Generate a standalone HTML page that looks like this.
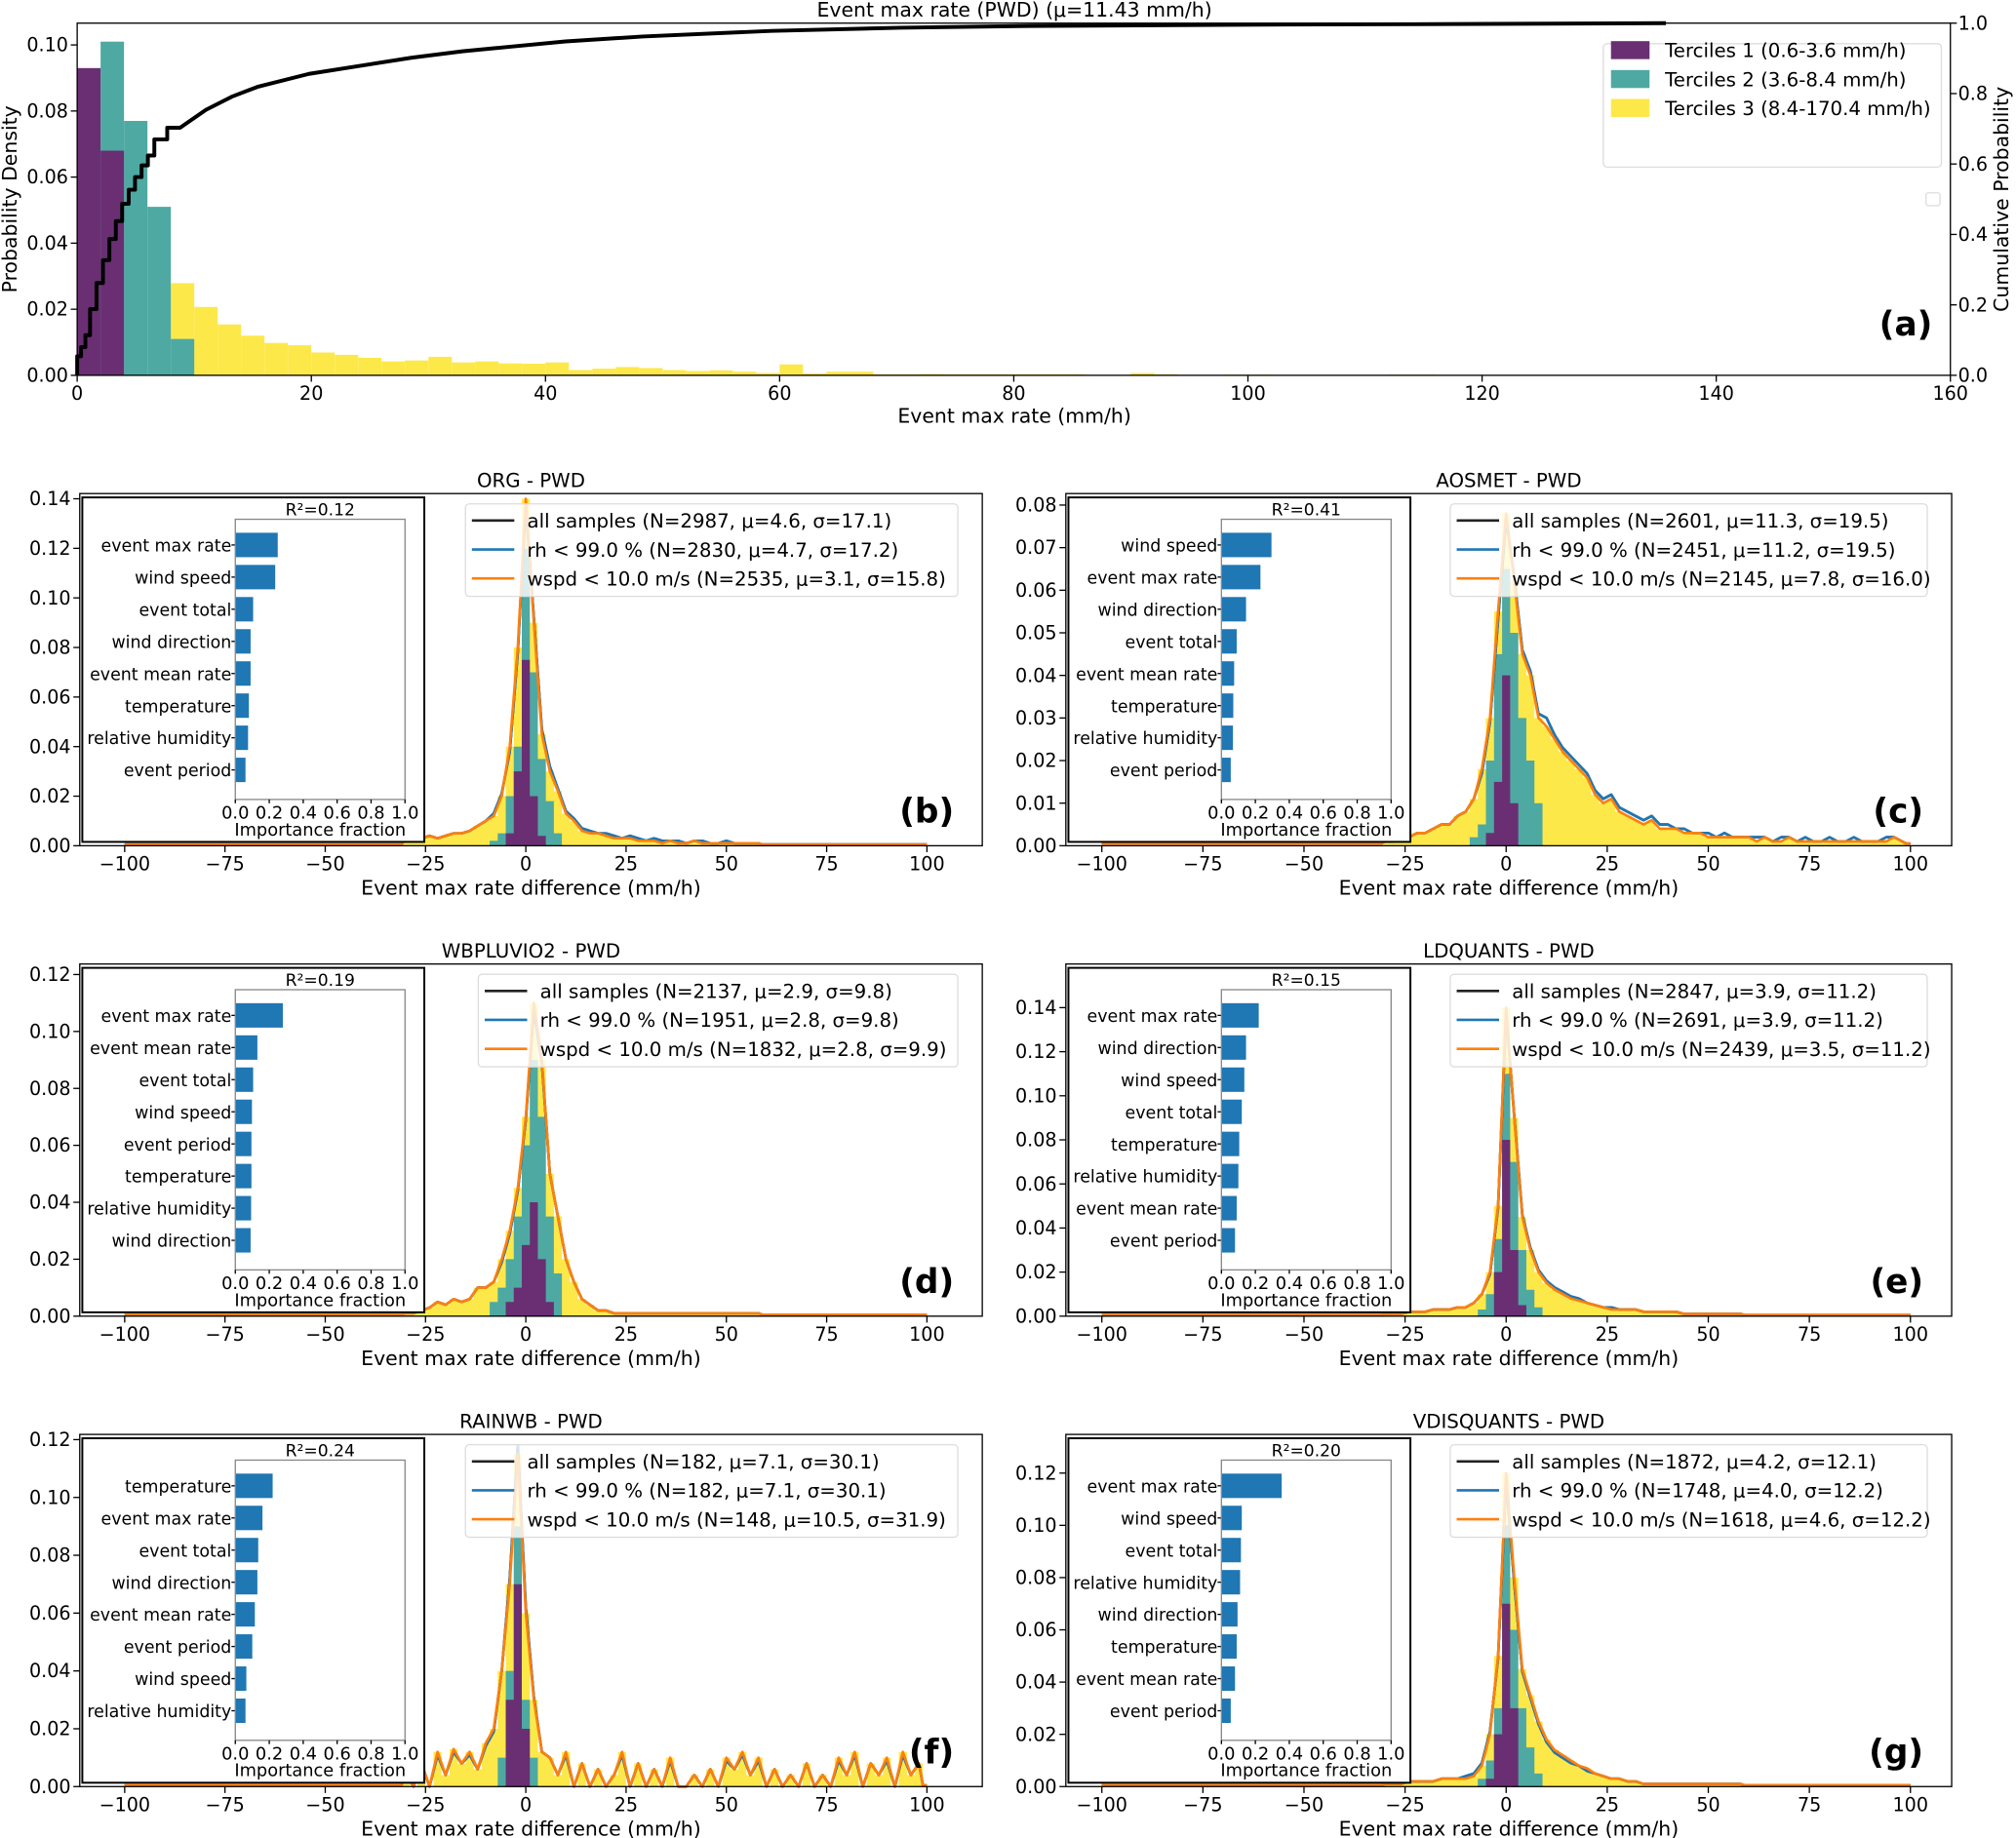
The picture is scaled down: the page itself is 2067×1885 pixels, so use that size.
<!DOCTYPE html>
<html><head><meta charset="utf-8">
<style>
html,body{margin:0;padding:0;background:#fff;}
svg{display:block;font-family:"DejaVu Sans","Liberation Sans",sans-serif;}
</style></head>
<body>
<svg id="fig" xmlns="http://www.w3.org/2000/svg" width="2067" height="1885" viewBox="0 0 1568 1430"></svg>
<script>
// ---------- top panel data ----------
const topBinWidth = 2;
const tercile1 = [0.093,0.068];
const tercile2 = [0,0.101,0.077,0.051,0.011];
const tercile3Start = 8;
const tercile3 = [0.0279,0.0207,0.0154,0.0120,0.0098,0.0091,0.0069,0.0062,0.0053,0.0042,0.0045,0.0056,0.0039,0.0042,0.0036,0.0035,0.0039,0.0016,0.0020,0.0025,0.0022,0.0016,0.0013,0.0015,0.0011,0.0007,0.0033,0.0006,0.0011,0.0011,0.0003,0.0003,0.0004,0.0003,0.0003,0.0003,0.0003,0.0003,0.0003,0.0001,0.0001,0.0007,0.0003,0,0,0.0002,0.0002,0,0,0,0,0,0.0002,0.0002];
const cdfX = [0,0.33,0.7,1.1,1.65,2.2,2.75,3.3,3.84,4.4,4.94,5.5,6.04,6.59,7.69,8.79,11.0,13.2,15.4,19.8,24.2,28.6,32.9,37.3,41.7,48.3,59.3,70.3,81.3,92.2,103.2,114.2,135.7];
const cdfY = [0,0.054,0.08,0.114,0.188,0.262,0.327,0.387,0.438,0.487,0.527,0.563,0.596,0.624,0.670,0.703,0.754,0.791,0.819,0.856,0.879,0.902,0.920,0.934,0.948,0.962,0.978,0.987,0.992,0.994,0.996,0.997,1.0];
const topXTicks = [0,20,40,60,80,100,120,140,160];
const topYTicks = [0,0.02,0.04,0.06,0.08,0.10];
const topCTicks = [0,0.2,0.4,0.6,0.8,1.0];

// ---------- lower panels data (bins of 2 starting at -31; tercile arrays start at -11) ----------
const histStart = -31, subStart = -11, binW = 2;
const bOrange=[0.003,0.002,0.003,0.004,0.003,0.004,0.005,0.005,0.006,0.008,0.010,0.012,0.020,0.040,0.080,0.140,0.090,0.045,0.030,0.022,0.013,0.010,0.006,0.005,0.005,0.004,0.003,0.003,0.003,0.002,0.002,0.002,0.001,0.002,0.001,0.001,0.002,0.001,0.001,0.001,0.001,0.001,0.001,0.001,0.001];
const bBlue  =[0.003,0.002,0.003,0.004,0.003,0.004,0.005,0.005,0.006,0.008,0.010,0.013,0.021,0.038,0.078,0.138,0.092,0.047,0.032,0.023,0.014,0.011,0.007,0.006,0.005,0.005,0.004,0.003,0.004,0.003,0.002,0.003,0.002,0.002,0.002,0.001,0.002,0.002,0.001,0.001,0.002,0.001,0.001,0.001,0.001];
const bTeal=[0,0.002,0.005,0.02,0.04,0.12,0.07,0.035,0.018,0.005];
const bPurple=[0,0,0,0.005,0.03,0.075,0.02,0.004,0,0];
const cOrange=[0.001,0.001,0.002,0.002,0.003,0.003,0.004,0.005,0.005,0.007,0.008,0.011,0.018,0.030,0.055,0.078,0.062,0.045,0.040,0.030,0.028,0.025,0.022,0.020,0.018,0.016,0.012,0.010,0.011,0.008,0.007,0.006,0.005,0.006,0.004,0.004,0.004,0.003,0.003,0.003,0.002,0.002,0.002,0.002,0.002,0.002,0.001,0.002,0.001,0.001,0.002,0.001,0.001,0.001,0.001,0.001,0.001,0.001,0.001,0.001,0.001,0.001,0.001,0.002,0.001];
const cBlue  =[0.001,0.001,0.002,0.002,0.003,0.003,0.004,0.005,0.005,0.007,0.008,0.011,0.017,0.029,0.053,0.077,0.063,0.046,0.041,0.031,0.030,0.026,0.023,0.021,0.019,0.017,0.013,0.011,0.012,0.009,0.008,0.007,0.006,0.007,0.005,0.005,0.004,0.004,0.003,0.003,0.003,0.002,0.003,0.002,0.002,0.002,0.002,0.002,0.001,0.002,0.002,0.001,0.002,0.001,0.001,0.002,0.001,0.001,0.002,0.001,0.001,0.001,0.002,0.002,0.001];
const cTeal=[0,0.002,0.005,0.02,0.045,0.065,0.05,0.03,0.02,0.01];
const cPurple=[0,0,0,0.003,0.015,0.04,0.01,0,0,0];
const dOrange=[0.001,0.001,0.002,0.003,0.005,0.004,0.006,0.005,0.006,0.010,0.010,0.012,0.020,0.030,0.045,0.070,0.110,0.090,0.050,0.035,0.020,0.012,0.006,0.004,0.002,0.002,0.001,0.001,0.001,0.001,0.001,0.001,0.001,0.001,0.001,0.001,0.001,0.001,0.001,0.001,0.001,0.001,0.001,0.001,0.001];
const dBlue  =[0.001,0.001,0.002,0.003,0.005,0.004,0.006,0.005,0.006,0.010,0.010,0.012,0.019,0.029,0.044,0.069,0.108,0.089,0.050,0.035,0.020,0.012,0.006,0.004,0.002,0.002,0.001,0.001,0.001,0.001,0.001,0.001,0.001,0.001,0.001,0.001,0.001,0.001,0.001,0.001,0.001,0.001,0.001,0.001,0.001];
const dTeal=[0,0.005,0.01,0.02,0.035,0.06,0.09,0.07,0.035,0.015];
const dPurple=[0,0,0,0.005,0.01,0.025,0.04,0.02,0.005,0];
const eOrange=[0.001,0.001,0.001,0.002,0.002,0.002,0.003,0.003,0.003,0.004,0.004,0.006,0.010,0.020,0.050,0.140,0.090,0.045,0.030,0.020,0.015,0.012,0.010,0.008,0.007,0.006,0.005,0.004,0.003,0.003,0.003,0.003,0.002,0.002,0.002,0.002,0.002,0.001,0.001,0.001,0.001,0.001,0.001,0.001,0.001];
const eBlue  =[0.001,0.001,0.001,0.002,0.002,0.002,0.003,0.003,0.003,0.004,0.004,0.006,0.010,0.019,0.049,0.138,0.091,0.046,0.031,0.021,0.016,0.013,0.011,0.009,0.008,0.006,0.005,0.004,0.004,0.003,0.003,0.003,0.002,0.002,0.002,0.002,0.002,0.001,0.001,0.001,0.001,0.001,0.001,0.001,0.001];
const eTeal=[0,0,0.003,0.01,0.035,0.11,0.07,0.03,0.012,0.004];
const ePurple=[0,0,0,0,0.02,0.08,0.03,0.005,0,0];
const fOrange=[0.004,0,0.008,0,0.012,0.004,0.013,0.008,0.012,0.006,0.015,0.020,0.040,0.070,0.115,0.060,0.030,0.012,0.010,0.004,0.012,0,0.008,0,0.006,0,0.004,0.012,0,0.008,0,0.006,0,0.010,0,0,0.004,0,0.006,0,0.010,0.006,0.012,0.004,0.010,0,0.006,0,0.004,0,0.008,0,0.004,0,0.010,0.004,0.012,0,0.008,0.004,0.010,0,0.012,0.004,0.008];
const fBlue  =[0.004,0,0.008,0,0.011,0.004,0.012,0.008,0.011,0.006,0.014,0.019,0.040,0.072,0.118,0.062,0.031,0.012,0.010,0.004,0.011,0,0.008,0,0.006,0,0.004,0.011,0,0.008,0,0.006,0,0.009,0,0,0.004,0,0.006,0,0.009,0.006,0.011,0.004,0.009,0,0.006,0,0.004,0,0.008,0,0.004,0,0.009,0.004,0.011,0,0.008,0.004,0.009,0,0.011,0.004,0.008];
const fTeal=[0,0,0.01,0.04,0.09,0.03,0.01,0,0,0];
const fPurple=[0,0,0,0.03,0.07,0.02,0,0,0,0];
const gOrange=[0.001,0.001,0.001,0.002,0.002,0.002,0.002,0.003,0.003,0.003,0.003,0.004,0.008,0.020,0.050,0.120,0.080,0.045,0.035,0.025,0.018,0.014,0.012,0.010,0.008,0.007,0.005,0.004,0.003,0.003,0.002,0.002,0.001,0.001,0.001,0.001,0.001,0.001,0.001,0.001,0.001,0.001,0.001,0.001,0.001];
const gBlue  =[0.001,0.001,0.001,0.002,0.002,0.002,0.002,0.003,0.003,0.003,0.004,0.005,0.009,0.021,0.049,0.118,0.078,0.044,0.034,0.024,0.017,0.013,0.011,0.009,0.008,0.006,0.005,0.004,0.003,0.003,0.002,0.002,0.001,0.001,0.001,0.001,0.001,0.001,0.001,0.001,0.001,0.001,0.001,0.001,0.001];
const gTeal=[0,0,0.003,0.01,0.03,0.1,0.06,0.03,0.015,0.005];
const gPurple=[0,0,0,0.003,0.02,0.07,0.03,0,0,0];

const bFeatures=["event max rate","wind speed","event total","wind direction","event mean rate","temperature","relative humidity","event period"];
const bImportance=[0.25,0.235,0.105,0.09,0.09,0.08,0.075,0.06];
const cFeatures=["wind speed","event max rate","wind direction","event total","event mean rate","temperature","relative humidity","event period"];
const cImportance=[0.295,0.23,0.145,0.09,0.075,0.07,0.068,0.055];
const dFeatures=["event max rate","event mean rate","event total","wind speed","event period","temperature","relative humidity","wind direction"];
const dImportance=[0.28,0.13,0.105,0.098,0.095,0.095,0.093,0.09];
const eFeatures=["event max rate","wind direction","wind speed","event total","temperature","relative humidity","event mean rate","event period"];
const eImportance=[0.22,0.145,0.135,0.12,0.105,0.1,0.09,0.08];
const fFeatures=["temperature","event max rate","event total","wind direction","event mean rate","event period","wind speed","relative humidity"];
const fImportance=[0.22,0.16,0.135,0.13,0.115,0.1,0.065,0.06];
const gFeatures=["event max rate","wind speed","event total","relative humidity","wind direction","temperature","event mean rate","event period"];
const gImportance=[0.355,0.12,0.115,0.11,0.095,0.09,0.08,0.055];

const xTicksDiff=[-100,-75,-50,-25,0,25,50,75,100];
const impTicks=[0,0.2,0.4,0.6,0.8,1.0];

const NS='http://www.w3.org/2000/svg';
const svg=document.getElementById('fig');
function mk(tag,attrs,parent){const e=document.createElementNS(NS,tag);for(const k in attrs)e.setAttribute(k,attrs[k]);(parent||svg).appendChild(e);return e;}
function txt(s,x,y,size,anchor,parent,extra){const t=mk('text',Object.assign({x:x,y:y,'font-size':size,'text-anchor':anchor||'start',fill:'#000'},extra||{}),parent);t.textContent=s;return t;}

const PUR='#6a2f73',TEAL='#4ea9a2',YEL='#fde84a';

// ---------- top panel ----------
(function(){
  const g=mk('g',{});
  
  
  const L=60,R=1517,T=18,B=292;
  const X=v=>L+v*(R-L)/160, Y=v=>B-v/0.1066*(B-T), YC=v=>B-v*(B-T);
  function bars(arr,start,color,name){arr.forEach((v,i)=>{if(v<=0)return;const x0=X(start+i*topBinWidth),x1=X(start+(i+1)*topBinWidth);
    const r=mk('rect',{x:x0,y:Y(v),width:x1-x0,height:B-Y(v),fill:color},g);
    
    });}
  bars(tercile3,tercile3Start,YEL,'tercile3');
  bars(tercile2,0,TEAL,'tercile2');
  bars(tercile1,0,PUR,'tercile1');
  let d='M'+X(cdfX[0])+','+B+' L'+X(cdfX[0])+','+YC(cdfY[0]);
  for(let i=1;i<cdfX.length;i++){
    if(cdfX[i]<9){d+=' V'+YC(cdfY[i])+' H'+X(cdfX[i]);}
    else{d+=' L'+X(cdfX[i])+','+YC(cdfY[i]);}
  }
  const cl=mk('path',{d:d,fill:'none',stroke:'#000','stroke-width':3,'stroke-linejoin':'round'},g);
  
  
  const fr=mk('rect',{x:L,y:T,width:R-L,height:B-T,fill:'none',stroke:'#000','stroke-width':1},g);
  
  
  topXTicks.forEach(v=>{mk('line',{x1:X(v),x2:X(v),y1:B,y2:B+5,stroke:'#000'},g);
    const t=txt(String(v),X(v),B+19,14.5,'middle',g);
    
    });
  topYTicks.forEach(v=>{mk('line',{x1:L-5,x2:L,y1:Y(v),y2:Y(v),stroke:'#000'},g);
    const t=txt(v.toFixed(2),L-7,Y(v)+5,14.5,'end',g);
    
    });
  topCTicks.forEach(v=>{mk('line',{x1:R,x2:R+5,y1:YC(v),y2:YC(v),stroke:'#000'},g);
    const t=txt(v.toFixed(1),R+6,YC(v)+5,14.5,'start',g);
    
    });
  let t=txt('Event max rate (PWD)    (\u03bc=11.43 mm/h)',789,13,15.5,'middle',g,{'xml:space':'preserve'});
  
  
  t=txt('Event max rate (mm/h)',789,329,15.5,'middle',g);
  
  
  t=txt('Probability Density',13,155,15.5,'middle',g,{transform:'rotate(-90 13 155)'});
  
  
  t=txt('Cumulative Probability',1562,155,15.5,'middle',g,{transform:'rotate(-90 1562 155)'});
  
  
  t=txt('(a)',1503,261,26,'end',g,{'font-weight':'bold'});
  
  
  const lg=mk('g',{},g);
  
  
  mk('rect',{x:1247,y:34,width:263,height:96,rx:3,fill:'#fff',stroke:'#ddd'},lg);
  [['Terciles 1 (0.6-3.6 mm/h)',PUR],['Terciles 2 (3.6-8.4 mm/h)',TEAL],['Terciles 3 (8.4-170.4 mm/h)',YEL]].forEach((e,i)=>{
    const y=32+i*22.5;
    const p=mk('rect',{x:1253,y:y,width:30,height:14,fill:e[1]},lg);
    
    
    txt(e[0],1295,y+12.5,15,'start',lg);
  });
  mk('rect',{x:1498,y:150,width:11,height:10,rx:2,fill:'#fff',stroke:'#ddd'},g);
})();

// ---------- lower panels ----------
const panels=[
 {id:'b',title:'ORG - PWD',col:0,row:0,ymax:0.1421,ticks:[0,0.02,0.04,0.06,0.08,0.10,0.12,0.14],dec:2,orange:bOrange,blue:bBlue,teal:bTeal,purple:bPurple,feat:bFeatures,imp:bImportance,r2:'0.12',leg:['all samples (N=2987, \u03bc=4.6, \u03c3=17.1)','rh < 99.0 % (N=2830, \u03bc=4.7, \u03c3=17.2)','wspd < 10.0 m/s (N=2535, \u03bc=3.1, \u03c3=15.8)'],legX:300},
 {id:'c',title:'AOSMET - PWD',col:1,row:0,ymax:0.0827,ticks:[0,0.01,0.02,0.03,0.04,0.05,0.06,0.07,0.08],dec:2,orange:cOrange,blue:cBlue,teal:cTeal,purple:cPurple,feat:cFeatures,imp:cImportance,r2:'0.41',leg:['all samples (N=2601, \u03bc=11.3, \u03c3=19.5)','rh < 99.0 % (N=2451, \u03bc=11.2, \u03c3=19.5)','wspd < 10.0 m/s (N=2145, \u03bc=7.8, \u03c3=16.0)'],legX:299},
 {id:'d',title:'WBPLUVIO2 - PWD',col:0,row:1,ymax:0.1237,ticks:[0,0.02,0.04,0.06,0.08,0.10,0.12],dec:2,orange:dOrange,blue:dBlue,teal:dTeal,purple:dPurple,feat:dFeatures,imp:dImportance,r2:'0.19',leg:['all samples (N=2137, \u03bc=2.9, \u03c3=9.8)','rh < 99.0 % (N=1951, \u03bc=2.8, \u03c3=9.8)','wspd < 10.0 m/s (N=1832, \u03bc=2.8, \u03c3=9.9)'],legX:310},
 {id:'e',title:'LDQUANTS - PWD',col:1,row:1,ymax:0.1598,ticks:[0,0.02,0.04,0.06,0.08,0.10,0.12,0.14],dec:2,orange:eOrange,blue:eBlue,teal:eTeal,purple:ePurple,feat:eFeatures,imp:eImportance,r2:'0.15',leg:['all samples (N=2847, \u03bc=3.9, \u03c3=11.2)','rh < 99.0 % (N=2691, \u03bc=3.9, \u03c3=11.2)','wspd < 10.0 m/s (N=2439, \u03bc=3.5, \u03c3=11.2)'],legX:299},
 {id:'f',title:'RAINWB - PWD',col:0,row:2,ymax:0.1218,ticks:[0,0.02,0.04,0.06,0.08,0.10,0.12],dec:2,orange:fOrange,blue:fBlue,teal:fTeal,purple:fPurple,feat:fFeatures,imp:fImportance,r2:'0.24',leg:['all samples (N=182, \u03bc=7.1, \u03c3=30.1)','rh < 99.0 % (N=182, \u03bc=7.1, \u03c3=30.1)','wspd < 10.0 m/s (N=148, \u03bc=10.5, \u03c3=31.9)'],legX:300},
 {id:'g',title:'VDISQUANTS - PWD',col:1,row:2,ymax:0.1348,ticks:[0,0.02,0.04,0.06,0.08,0.10,0.12],dec:2,orange:gOrange,blue:gBlue,teal:gTeal,purple:gPurple,feat:gFeatures,imp:gImportance,r2:'0.20',leg:['all samples (N=1872, \u03bc=4.2, \u03c3=12.1)','rh < 99.0 % (N=1748, \u03bc=4.0, \u03c3=12.2)','wspd < 10.0 m/s (N=1618, \u03bc=4.6, \u03c3=12.2)'],legX:299}
];

panels.forEach(p=>{
  const L=p.col?829:62, R=p.col?1518:764, T=[384,750,1116][p.row], B=T+274;
  const xmin=p.col?-108.9:-111.2, xmax=p.col?110.2:113.8;
  const g=mk('g',{});
  
  
  const X=v=>L+(v-xmin)/(xmax-xmin)*(R-L), Y=v=>B-v/p.ymax*(B-T);
  function stepArea(arr,start,color,name){
    let d='M'+X(start)+','+B;
    arr.forEach((v,i)=>{const x0=X(start+i*binW),x1=X(start+(i+1)*binW);d+=' L'+x0+','+Y(v)+' L'+x1+','+Y(v);});
    d+=' L'+X(start+arr.length*binW)+','+B+' Z';
    const a=mk('path',{d:d,fill:color},g);
    
    
  }
  stepArea(p.orange,histStart,YEL,'tercile3-area');
  stepArea(p.teal,subStart,TEAL,'tercile2-area');
  stepArea(p.purple,subStart,PUR,'tercile1-area');
  function line(arr,color,name,w){
    const end=histStart+arr.length*binW;
    let d='M'+X(-100)+','+Y(0.0005)+' L'+X(histStart)+','+Y(0.0005);
    arr.forEach((v,i)=>{d+=' L'+X(histStart+(i+0.5)*binW)+','+Y(v);});
    d+=' L'+X(end)+','+Y(0.0005)+' L'+X(100)+','+Y(0.0005);
    const l=mk('path',{d:d,fill:'none',stroke:color,'stroke-width':w,'stroke-linejoin':'round'},g);
    
    
  }
  line(p.blue,'#222','all-samples-line',2);
  line(p.blue,'#1f77b4','rh-line',2);
  line(p.orange,'#ff7f0e','wspd-line',2);
  const fr=mk('rect',{x:L,y:T,width:R-L,height:B-T,fill:'none',stroke:'#000','stroke-width':1},g);
  
  
  xTicksDiff.forEach(v=>{mk('line',{x1:X(v),x2:X(v),y1:B,y2:B+5,stroke:'#000'},g);
    const t=txt(v<0?'\u2212'+Math.abs(v):String(v),X(v),B+19,14.5,'middle',g);
    
    });
  p.ticks.forEach(v=>{mk('line',{x1:L-5,x2:L,y1:Y(v),y2:Y(v),stroke:'#000'},g);
    const t=txt(v.toFixed(p.dec),L-7,Y(v)+5,14.5,'end',g);
    
    });
  let t=txt(p.title,(L+R)/2,T-5,15,'middle',g);
  
  
  t=txt('Event max rate difference (mm/h)',(L+R)/2,B+38,15.5,'middle',g);
  
  
  t=txt('('+p.id+')',R-22,B-18,26,'end',g,{'font-weight':'bold'});
  
  
  const lg=mk('g',{},g);
  
  
  const lx=L+p.legX, lw=R-2-lx-17;
  mk('rect',{x:lx,y:T+8,width:lw,height:72,rx:3,fill:'#fff','fill-opacity':0.8,stroke:'#ddd'},lg);
  ['#222','#1f77b4','#ff7f0e'].forEach((c,i)=>{
    const y=T+21+i*22.5;
    const ln=mk('line',{x1:lx+5,x2:lx+38,y1:y,y2:y,stroke:c,'stroke-width':2},lg);
    
    
    txt(p.leg[i],lx+48,y+5.5,15,'start',lg);
  });
  const ig=mk('g',{},g);
  
  
  mk('rect',{x:L+2,y:T+3,width:266,height:268,fill:'#fff',stroke:'#000','stroke-width':1.5},ig);
  const bl=L+121, br=L+253, bt=T+20, bb=T+238;
  const IX=v=>bl+v*(br-bl);
  p.imp.forEach((v,k)=>{
    const cy=T+40+25*k;
    const r=mk('rect',{x:bl,y:cy-9.5,width:IX(v)-bl,height:19,fill:'#1f77b4'},ig);
    
    
    mk('line',{x1:bl-3,x2:bl,y1:cy,y2:cy,stroke:'#000'},ig);
    txt(p.feat[k],bl-3,cy+5,13.2,'end',ig);
  });
  mk('rect',{x:bl,y:bt,width:br-bl,height:bb-bt,fill:'none',stroke:'#888','stroke-width':1},ig);
  impTicks.forEach(v=>{mk('line',{x1:IX(v),x2:IX(v),y1:bb,y2:bb+3,stroke:'#000'},ig);
    txt(v.toFixed(1),IX(v),bb+15,13.5,'middle',ig);});
  txt('Importance fraction',(bl+br)/2,bb+28,13.5,'middle',ig);
  txt('R\u00b2='+p.r2,(bl+br)/2,bt-3,13,'middle',ig);
});
</script>
</body></html>
